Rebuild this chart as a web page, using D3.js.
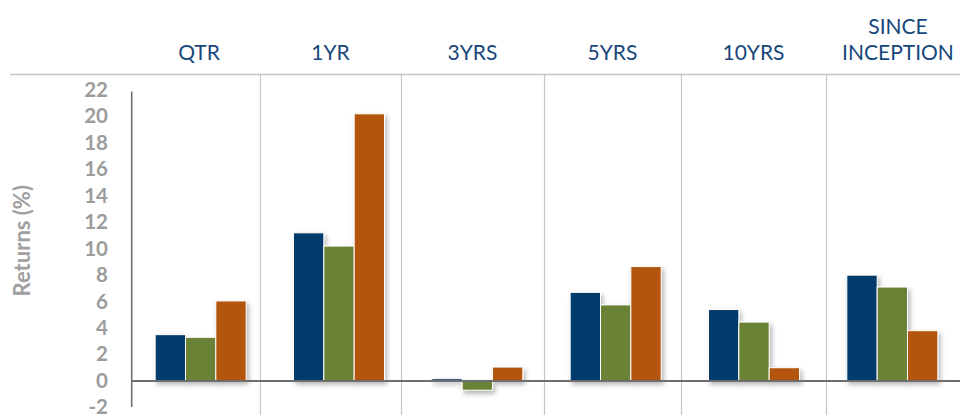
<!DOCTYPE html>
<html>
<head>
<meta charset="utf-8">
<script src="https://cdn.jsdelivr.net/npm/d3@7"></script>
<style>
  body { margin: 0; background: #fff; }
  svg { display: block; font-family: Lato, "Open Sans", sans-serif; }
</style>
</head>
<body>
<div class="chartContainer"></div>
<script>
// periods shown as column headers
var periods = ["QTR", "1YR", "3YRS", "5YRS", "10YRS", "SINCE INCEPTION"];
var headerLines = [["QTR"], ["1YR"], ["3YRS"], ["5YRS"], ["10YRS"], ["SINCE", "INCEPTION"]];
var seriesNames = ["Fund", "Benchmark", "Index"];
// returns (%) per series, one value per period
var fundReturns = [3.5, 11.2, 0.17, 6.7, 5.4, 8.0];
var benchReturns = [3.3, 10.2, -0.7, 5.75, 4.45, 7.1];
var indexReturns = [6.05, 20.2, 1.05, 8.65, 1.0, 3.8];
var yTicks = [-2, 0, 2, 4, 6, 8, 10, 12, 14, 16, 18, 20, 22];
var colors = ["#003a6c", "#6b8235", "#b35508"];

window.onload = drawChart();

function drawChart(){

    var width = 960,
        height = 415;

    var svg = d3.select("div.chartContainer")
        .append("svg")
        .attr("width", width)
        .attr("height", height);

    //soft drop shadow under the bars
    var defs = svg.append("defs");
    var filter = defs.append("filter")
        .attr("id", "barShadow")
        .attr("x", "-30%").attr("y", "-30%")
        .attr("width", "170%").attr("height", "170%");
    filter.append("feDropShadow")
        .attr("dx", 2)
        .attr("dy", 3)
        .attr("stdDeviation", 2.5)
        .attr("flood-color", "#000")
        .attr("flood-opacity", 0.3);

    //header table column edges (table cells are not even in the original)
    var headerEdges = [138, 260, 401, 544, 681, 826, 970];

    //top rule
    svg.append("line")
        .attr("x1", 10).attr("x2", width)
        .attr("y1", 74.5).attr("y2", 74.5)
        .attr("stroke", "#c6c6c6")
        .attr("stroke-width", 1.3);

    //column separators
    svg.selectAll(".sep")
        .data(headerEdges.slice(1, 6))
        .enter()
        .append("line")
        .attr("class", "sep")
        .attr("x1", function(d){ return d + 0.5; })
        .attr("x2", function(d){ return d + 0.5; })
        .attr("y1", 75)
        .attr("y2", height)
        .attr("stroke", "#c6c6c6")
        .attr("stroke-width", 1.2);

    //column headers
    var headers = svg.selectAll(".header")
        .data(periods)
        .enter()
        .append("text")
        .attr("class", "header")
        .attr("text-anchor", "middle")
        .attr("font-size", "21px")
        .attr("fill", "#17477a");
    headers.each(function(d, i){
        var lines = headerLines[i];
        var cx = (headerEdges[i] + headerEdges[i + 1]) / 2;
        for (var k = 0; k < lines.length; k++){
            d3.select(this).append("tspan")
                .attr("x", cx)
                .attr("y", 59.5 - (lines.length - 1 - k) * 25.5)
                .text(lines[k]);
        }
    });

    //scales
    var y = d3.scaleLinear()
        .domain([-2, 22])
        .range([407.4, 90]);

    var x0 = d3.scaleBand()
        .domain(periods)
        .range([131.5, 961.5])
        .paddingInner(0.342)
        .paddingOuter(0.171);

    var x1 = d3.scaleBand()
        .domain(seriesNames)
        .range([0, x0.bandwidth()]);

    //y tick labels
    svg.selectAll(".tick")
        .data(yTicks)
        .enter()
        .append("text")
        .attr("class", "tick")
        .attr("x", 108)
        .attr("y", function(d){ return y(d); })
        .attr("dy", "0.34em")
        .attr("text-anchor", "end")
        .attr("font-size", "20.5px")
        .attr("font-weight", "bold")
        .attr("fill", "#9c9c9c")
        .text(function(d){ return d; });

    //axis title
    svg.append("text")
        .attr("transform", "translate(30," + y(10.6) + ") rotate(-90)")
        .attr("text-anchor", "middle")
        .attr("font-size", "22px")
        .attr("font-weight", "bold")
        .attr("fill", "#a0a0a0")
        .text("Returns (%)");

    //bars
    var allSeries = [fundReturns, benchReturns, indexReturns];
    var rows = [];
    periods.forEach(function(p, i){
        seriesNames.forEach(function(s, j){
            rows.push({ period: p, series: s, value: allSeries[j][i], color: colors[j] });
        });
    });

    svg.append("g")
        .attr("filter", "url(#barShadow)")
        .selectAll("rect")
        .data(rows)
        .enter()
        .append("rect")
        .attr("x", function(d){ return x0(d.period) + x1(d.series); })
        .attr("width", x1.bandwidth())
        .attr("y", function(d){ return y(Math.max(0, d.value)); })
        .attr("height", function(d){ return Math.abs(y(d.value) - y(0)); })
        .attr("fill", function(d){ return d.color; })
        .attr("stroke", "#ffffff")
        .attr("stroke-width", 1);

    //zero line
    svg.append("line")
        .attr("x1", 131.5).attr("x2", width)
        .attr("y1", y(0)).attr("y2", y(0))
        .attr("stroke", "#6e6e6e")
        .attr("stroke-width", 2);

    //y axis line
    svg.append("line")
        .attr("x1", 131.7).attr("x2", 131.7)
        .attr("y1", y(22) + 1.5).attr("y2", y(-2) - 0.5)
        .attr("stroke", "#6e6e6e")
        .attr("stroke-width", 1.6);
};
</script>
</body>
</html>
